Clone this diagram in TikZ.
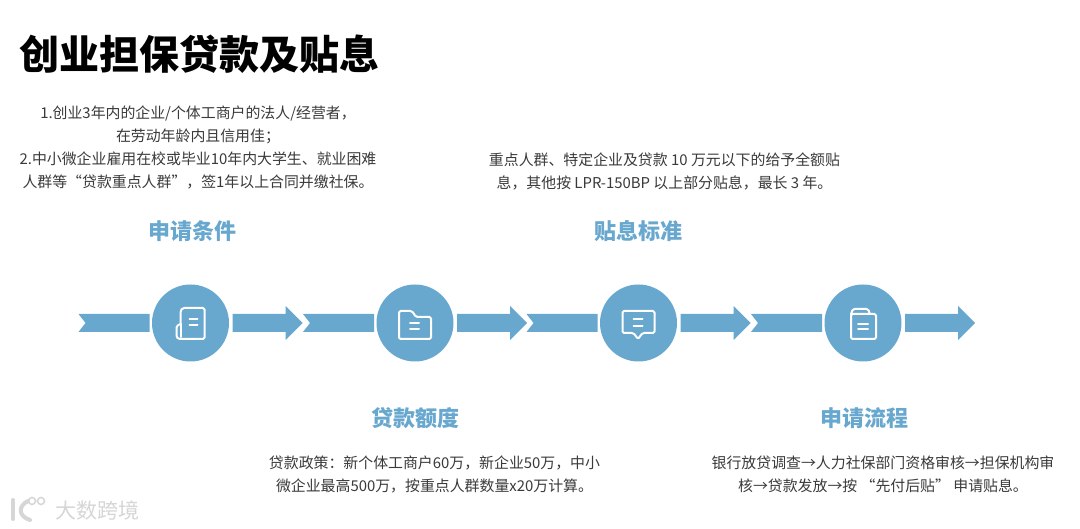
\documentclass[tikz,border=0pt]{standalone}
\usepackage{fontspec}
\setmainfont{Noto Sans CJK SC}
\usetikzlibrary{calc}
\definecolor{bandblue}{HTML}{68A8CF}
\definecolor{bodygray}{HTML}{3A3A3A}
\definecolor{markgray}{HTML}{D6D6D6}
\tikzset{
  titletext/.style={inner sep=0pt,font=\fontsize{40}{44}\selectfont\bfseries,text=black,anchor=west},
  headtext/.style={inner sep=0pt,font=\fontsize{22}{24}\selectfont\bfseries,text=bandblue},
  bodytext/.style={inner sep=0pt,align=center,font=\fontsize{14.9}{23}\selectfont,text=bodygray},
  stagecircle/.style={circle,fill=bandblue,minimum size=77pt,inner sep=0pt},
  bandshape/.style={fill=bandblue,draw=none},
  iconline/.style={draw=white,line width=2pt,line join=round,line cap=round,rounded corners=1.5pt},
}
% #1 node name, #2 centre x, #3 icon drawing
\newcommand{\stagegroup}[3]{%
  \node[stagecircle] (#1) at (#2,323) {};
  \begin{scope}[shift={(#1.center)}]
    % tail
    \path[bandshape] (-112,-9) -- (-41,-9) -- (-41,9) -- (-112,9) -- (-105,0) -- cycle;
    % head
    \path[bandshape] (42,-9) -- (95,-9) -- (95,-17) -- (112,0) -- (95,17) -- (95,9) -- (42,9) -- cycle;
    #3
  \end{scope}%
}
\begin{document}
\begin{tikzpicture}[x=1pt,y=-1pt]
\useasboundingbox (0,0) rectangle (1080,529);
\fill[white] (0,0) rectangle (1080,529);

\node[titletext] (title) at (19,54) {创业担保贷款及贴息};

\node[bodytext] (cond) at (198,147.5) {1.创业3年内的企业/个体工商户的法人/经营者，\\在劳动年龄内且信用佳；\\2.中小微企业雇用在校或毕业10年内大学生、就业困难\\人群等“贷款重点人群”，签1年以上合同并缴社保。};
\node[bodytext] (rate) at (664.5,171) {重点人群、特定企业及贷款 10 万元以下的给予全额贴\\息，其他按 LPR-150BP 以上部分贴息，最长 3 年。};
\node[bodytext] (amount) at (434.5,474.5) {贷款政策：新个体工商户60万，新企业50万，中小\\微企业最高500万，按重点人群数量x20万计算。};
\node[bodytext] (flow) at (883,474.5) {银行放贷调查→人力社保部门资格审核→担保机构审\\核→贷款发放→按 “先付后贴” 申请贴息。};

\node[headtext] (h1) at (192,231) {申请条件};
\node[headtext] (h2) at (638,231) {贴息标准};
\node[headtext] (h3) at (415,418) {贷款额度};
\node[headtext] (h4) at (864,418) {申请流程};

\stagegroup{s1}{190.5}{
  \draw[iconline] (-10,1) -- (-10,-12) -- (-8,-15) -- (14,-15) -- (14,16) -- (-12,16) -- (-14,14) -- (-14,3) -- (-10,1);
  \draw[iconline] (-10,1) -- (-10,14);
  \draw[iconline] (-1,-3.5) -- (7,-3.5) (-1,2.5) -- (7,2.5);
}
\stagegroup{s2}{415}{
  \draw[iconline] (-16,-12) -- (-3,-12) -- (1,-6) -- (16,-6) -- (16,16) -- (-16,16) -- cycle;
  \draw[iconline] (-5,0.5) -- (4,0.5) (-5,6.5) -- (4,6.5);
}
\stagegroup{s3}{638.5}{
  \draw[iconline] (-16,-12) -- (16,-12) -- (16,10) -- (4,10) -- (-0.5,16) -- (-5,10) -- (-16,10) -- cycle;
  \draw[iconline] (-5,-4) -- (4,-4) (-5,3) -- (4,3);
}
\stagegroup{s4}{863}{
  \draw[iconline] (-12,-9) -- (13,-9) -- (13,16) -- (-12,16) -- cycle;
  \draw[iconline] (-12,-9) -- (-10,-14) -- (5,-14) -- (7,-9);
  \draw[iconline] (-5,1.5) -- (5,1.5) (-5,6.5) -- (5,6.5);
}

% watermark
\node[inner sep=0pt,anchor=west,font=\fontsize{21}{24}\selectfont,text=markgray] (mark) at (55,510) {大数跨境};
\draw[markgray,line width=4pt,line cap=round] (13,500) -- (13,519);
\draw[markgray,line width=4pt,line cap=round] (28,501) .. controls (18,506) and (18,516) .. (30,520);
\draw[markgray,line width=1.5pt] (32,501) circle (3.5) (41,501) circle (3.5);

\end{tikzpicture}
\end{document}
